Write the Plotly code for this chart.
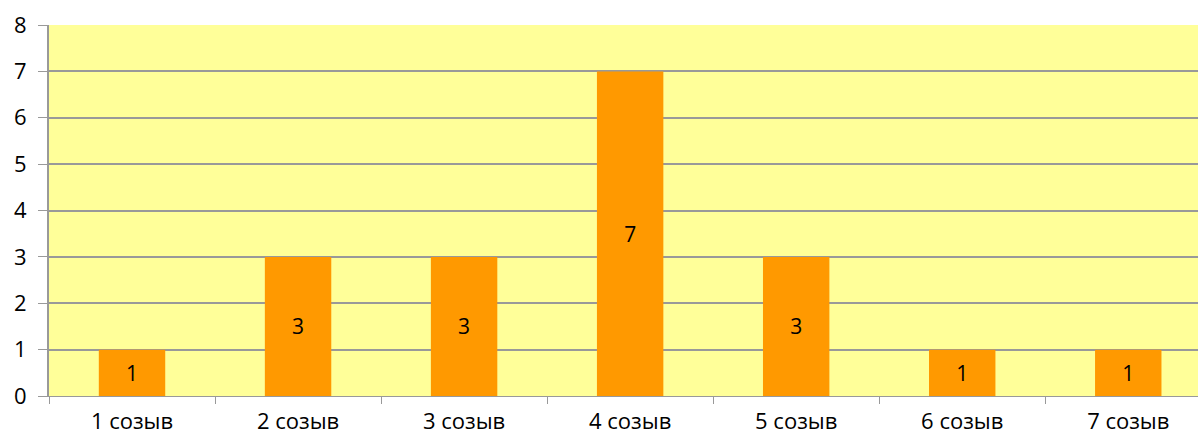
import plotly.graph_objects as go

categories = ["1 созыв", "2 созыв", "3 созыв", "4 созыв", "5 созыв", "6 созыв", "7 созыв"]
values = [1, 3, 3, 7, 3, 1, 1]
y_ticks = [0, 1, 2, 3, 4, 5, 6, 7, 8]

fig = go.Figure()
fig.add_trace(go.Bar(
    x=categories, y=values, width=0.4,
    marker=dict(color="#FF9900", line=dict(width=0)),
    text=[str(v) for v in values], textposition="inside",
    insidetextanchor="middle",
    textfont=dict(family="Open Sans", size=21, color="#000000"),
))

fig.update_layout(
    width=1198, height=439,
    margin=dict(l=49, r=0, t=25, b=43),
    paper_bgcolor="#FFFFFF", plot_bgcolor="#FFFF99",
    showlegend=False,
    font=dict(family="Open Sans", size=21, color="#000000"),
)
fig.update_xaxes(
    range=[-0.5, 6.42], tickson="boundaries", ticks="outside", ticklen=7,
    tickcolor="#999999", showline=True, linecolor="#999999", linewidth=1,
    showgrid=False, tickfont=dict(size=22), ticklabelstandoff=6,
    automargin=False,
)
fig.update_yaxes(
    range=[0, 8], tickvals=y_ticks, ticks="outside", ticklen=9,
    tickcolor="#999999", showline=True, linecolor="#999999", linewidth=2,
    gridcolor="#999999", gridwidth=1.5, zeroline=False, tickfont=dict(size=22),
    ticklabelstandoff=7, automargin=False,
)

fig.write_html(
    "out.html",
    config={"displayModeBar": False},
    post_script="document.body.style.margin='0';document.body.style.overflow='hidden';",
)
